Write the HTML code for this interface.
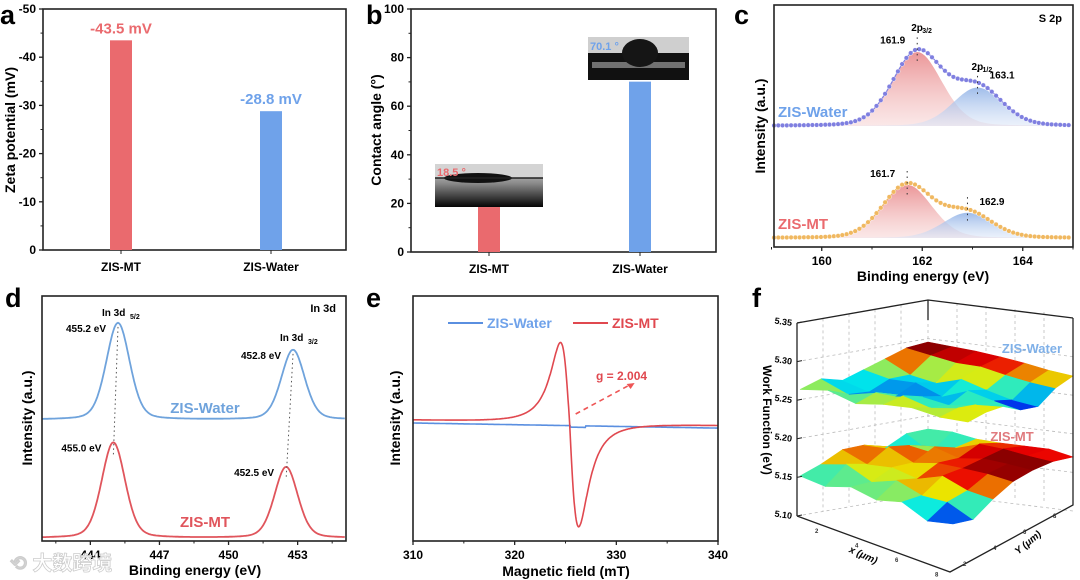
<!DOCTYPE html>
<html><head><meta charset="utf-8">
<style>
html,body{margin:0;padding:0;background:#fff;}
svg{display:block;font-family:"Liberation Sans","Noto Sans CJK SC",sans-serif;font-weight:bold;}
</style></head>
<body>
<svg id="fig" width="1080" height="580" viewBox="0 0 1080 580" xmlns="http://www.w3.org/2000/svg">
<defs>
<linearGradient id="gr" x1="0" y1="0" x2="0" y2="1"><stop offset="0" stop-color="#e98a8c" stop-opacity="0.9"/><stop offset="1" stop-color="#f6d0d0" stop-opacity="0.5"/></linearGradient>
<linearGradient id="gb" x1="0" y1="0" x2="0" y2="1"><stop offset="0" stop-color="#8fb1e6" stop-opacity="0.85"/><stop offset="1" stop-color="#d8e4f7" stop-opacity="0.5"/></linearGradient>
<linearGradient id="sub" x1="0" y1="0" x2="0" y2="1"><stop offset="0" stop-color="#d8d8d8"/><stop offset="0.45" stop-color="#8a8a8a"/><stop offset="1" stop-color="#050505"/></linearGradient>
</defs>
<g id="root"></g>
</svg>
<script>
// ---------- DATA ----------
const barCats = ["ZIS-MT","ZIS-Water"];
const zetaVals = [-43.5, -28.8];
const zetaLabels = ["-43.5 mV","-28.8 mV"];
const zetaTicks = [0,-10,-20,-30,-40,-50];
const angleVals = [18.5, 70.1];
const angleLabels = ["18.5 °","70.1 °"];
const angleTicks = [0,20,40,60,80,100];
// XPS S 2p components: [center, height]
const s2pWaterPeaks = [[161.9, 1.0],[163.1, 0.52]];
const s2pMTPeaks = [[161.7, 0.76],[162.9, 0.36]];
const s2pTicks = [160,162,164];
// XPS In 3d: [center, height]
const in3dWaterPeaks = [[445.2, 3.95],[452.8, 2.85]];
const in3dMTPeaks = [[445.0, 3.9],[452.5, 2.9]];
const in3dBase = [4.95, 0.12];
const in3dTicks = [444,447,450,453];
// EPR
const eprCenter = 325.4;
const eprHalfWidth = 1.55;
const eprUp = 10.0, eprDown = 13.0;
const eprTicks = [310,320,330,340];
// Work function surfaces (7x7 grid, eV)
const wfWater = [
 [5.275,5.285,5.270,5.280,5.290,5.300,5.300],
 [5.285,5.265,5.258,5.272,5.268,5.295,5.300],
 [5.270,5.280,5.260,5.275,5.262,5.290,5.300],
 [5.280,5.285,5.270,5.258,5.280,5.292,5.298],
 [5.285,5.272,5.264,5.280,5.268,5.285,5.295],
 [5.278,5.283,5.276,5.270,5.258,5.280,5.290],
 [5.280,5.285,5.283,5.262,5.255,5.278,5.288]];
const wfMT = [
 [5.160,5.170,5.185,5.180,5.160,5.175,5.170],
 [5.155,5.185,5.170,5.190,5.178,5.150,5.175],
 [5.170,5.165,5.178,5.172,5.188,5.170,5.172],
 [5.160,5.183,5.170,5.185,5.178,5.190,5.175],
 [5.172,5.168,5.190,5.188,5.190,5.192,5.180],
 [5.150,5.170,5.175,5.190,5.192,5.190,5.185],
 [5.160,5.150,5.172,5.188,5.192,5.190,5.180]];
const wfTicks = [5.10,5.15,5.20,5.25,5.30,5.35];

// ---------- helpers ----------
const NS="http://www.w3.org/2000/svg";
const root=document.getElementById('root');
function el(tag,attrs,parent,text){const e=document.createElementNS(NS,tag);for(const k in attrs)e.setAttribute(k,attrs[k]);if(text!==undefined)e.textContent=text;(parent||root).appendChild(e);return e;}
function lin(d0,d1,r0,r1){return v=>r0+(v-d0)*(r1-r0)/(d1-d0);}
const RED="#ea6a6e", BLUE="#6fa2ea";
function peakShape(x,c,h,w,gf){const d=(x-c)/w;return h*(gf*Math.exp(-d*d*2.77)+(1-gf)/(1+4*d*d));}
function panelLabel(t,x,y){const e=el('text',{x:x,y:y,'font-size':27,fill:'#000'},root,t);

}

// ---------- Panel a ----------
(function(){
const g=el('g',{});


const L=43,R=346,T=9,B=250;
const y=lin(0,-50,B,T);
const xc=[121,271];
el('rect',{x:L,y:T,width:R-L,height:B-T,fill:'none',stroke:'#222','stroke-width':1.6},g);
zetaTicks.forEach(t=>{el('line',{x1:L-4,x2:L,y1:y(t),y2:y(t),stroke:'#222','stroke-width':1.3},g);
const tx=el('text',{x:L-7,y:y(t)+4,'font-size':12,'text-anchor':'end'},g,String(t));


if(t>-50){const m=y(t+(-5));el('line',{x1:L-2.5,x2:L,y1:m,y2:m,stroke:'#222'},g);}});
barCats.forEach((c,i)=>{
const col=i?BLUE:RED;
const b=el('rect',{x:xc[i]-11,y:y(zetaVals[i]),width:22,height:B-y(zetaVals[i]),fill:col},g);


const lb=el('text',{x:xc[i],y:y(zetaVals[i])-7,'font-size':15,'text-anchor':'middle',fill:col},g,zetaLabels[i]);


el('line',{x1:xc[i],x2:xc[i],y1:B,y2:B+4,stroke:'#222'},g);
const cx=el('text',{x:xc[i],y:B+21,'font-size':12,'text-anchor':'middle'},g,c);

});
const yt=el('text',{transform:'translate(15,130) rotate(-90)','font-size':14,'text-anchor':'middle'},g,'Zeta potential (mV)');


})();
panelLabel('a',0,24);

// ---------- Panel b ----------
(function(){
const g=el('g',{});


const L=411,R=716,T=9,B=252;
const y=lin(0,100,B,T);
const xc=[489,640];
el('rect',{x:L,y:T,width:R-L,height:B-T,fill:'none',stroke:'#222','stroke-width':1.6},g);
angleTicks.forEach(t=>{el('line',{x1:L-4,x2:L,y1:y(t),y2:y(t),stroke:'#222','stroke-width':1.3},g);
const tx=el('text',{x:L-7,y:y(t)+4,'font-size':12,'text-anchor':'end'},g,String(t));


if(t<100){const m=y(t+10);el('line',{x1:L-2.5,x2:L,y1:m,y2:m,stroke:'#222'},g);}});
barCats.forEach((c,i)=>{
const col=i?BLUE:RED;
const b=el('rect',{x:xc[i]-11,y:y(angleVals[i]),width:22,height:B-y(angleVals[i]),fill:col},g);


el('line',{x1:xc[i],x2:xc[i],y1:B,y2:B+4,stroke:'#222'},g);
const cx=el('text',{x:xc[i],y:B+21,'font-size':12,'text-anchor':'middle'},g,c);

});
const i1=el('g',{},g);


el('rect',{x:435,y:164,width:108,height:43,fill:'url(#sub)'},i1);
el('rect',{x:435,y:164,width:108,height:14,fill:'#d4d4d4'},i1);
el('ellipse',{cx:478,cy:178,rx:34,ry:5,fill:'#111'},i1);
el('line',{x1:435,x2:543,y1:178,y2:178,stroke:'#222','stroke-width':1.5},i1);
el('text',{x:437,y:176,'font-size':11,fill:RED},i1,angleLabels[0]);
const i2=el('g',{},g);


el('rect',{x:588,y:37,width:101,height:43,fill:'#111'},i2);
el('rect',{x:588,y:37,width:101,height:16,fill:'#cfcfcf'},i2);
el('rect',{x:592,y:62,width:93,height:6,fill:'#9a9a9a',opacity:0.7},i2);
el('ellipse',{cx:640,cy:53,rx:18,ry:14,fill:'#151515'},i2);
el('text',{x:590,y:50,'font-size':11,fill:BLUE},i2,angleLabels[1]);
const yt=el('text',{transform:'translate(381,130) rotate(-90)','font-size':14,'text-anchor':'middle'},g,'Contact angle (°)');


})();
panelLabel('b',366,24);

// ---------- Panel c ----------
(function(){
const g=el('g',{});


const L=774,R=1073,T=5,B=247;
const x=lin(159.05,165,L,R);
const sets=[{pk:s2pWaterPeaks,base:126,scale:74,dot:'#7f7fe0',name:'ZIS-Water',lc:BLUE,ly:117},
{pk:s2pMTPeaks,base:238,scale:70,dot:'#f0b860',name:'ZIS-MT',lc:RED,ly:229}];
const w=1.15, gf=0.85;
sets.forEach(s=>{
const gs=el('g',{},g);


s.pk.forEach((p,k)=>{let d='';for(let e=159.05;e<=165;e+=0.05){const v=peakShape(e,p[0],p[1],w,gf);d+=(d?'L':'M')+x(e).toFixed(1)+','+(s.base-v*s.scale).toFixed(1);}
d+='L'+R+','+s.base+'L'+L+','+s.base+'Z';
const a=el('path',{d:d,fill:k?'url(#gb)':'url(#gr)',stroke:'none'},gs);

});
let ld='';for(let e=159.05;e<=165;e+=0.05){let v=0;s.pk.forEach(p=>v+=peakShape(e,p[0],p[1],w,gf));ld+=(ld?'L':'M')+x(e).toFixed(1)+','+(s.base-v*s.scale).toFixed(1);}
el('path',{d:ld,fill:'none',stroke:s.dot,'stroke-width':1.2},gs);
for(let e=159.05;e<=165;e+=0.085){let v=0;s.pk.forEach(p=>v+=peakShape(e,p[0],p[1],w,gf));
el('circle',{cx:x(e).toFixed(1),cy:(s.base-v*s.scale).toFixed(1),r:2.3,fill:s.dot,stroke:'#fff','stroke-width':0.4},gs);}
s.pk.forEach(p=>{let v=0;s.pk.forEach(q=>v+=peakShape(p[0],q[0],q[1],w,gf));const yy=s.base-v*s.scale;
el('line',{x1:x(p[0]),x2:x(p[0]),y1:yy-12,y2:yy+14,stroke:'#333','stroke-dasharray':'1.5,4'},gs);
el('text',{x:p===s.pk[0]?x(p[0])-12:x(p[0])+12,y:p===s.pk[0]?yy-6:yy-4,'font-size':10,'text-anchor':p===s.pk[0]?'end':'start'},gs,p[0].toFixed(1));});
const lt=el('text',{x:778,y:s.ly,'font-size':15,fill:s.lc},gs,s.name);


});
el('text',{x:x(161.9)-6,y:31,'font-size':10},g,'2p');
el('text',{x:x(161.9)+5,y:33,'font-size':7},g,'3/2');
el('text',{x:x(163.1)-6,y:70,'font-size':10},g,'2p');
el('text',{x:x(163.1)+5,y:72,'font-size':7},g,'1/2');
el('text',{x:1062,y:22,'font-size':11,'text-anchor':'end'},g,'S 2p');
el('rect',{x:L,y:T,width:R-L,height:B-T,fill:'none',stroke:'#222','stroke-width':1.6},g);
s2pTicks.forEach(t=>{el('line',{x1:x(t),x2:x(t),y1:B,y2:B+4,stroke:'#222','stroke-width':1.3},g);
const tx=el('text',{x:x(t),y:B+18,'font-size':12,'text-anchor':'middle'},g,String(t));


el('line',{x1:x(t+1),x2:x(t+1),y1:B,y2:B+2.5,stroke:'#222'},g);});
el('line',{x1:x(159),x2:x(159),y1:B,y2:B+2.5,stroke:'#222'},g);
const xt=el('text',{x:923,y:281,'font-size':14,'text-anchor':'middle'},g,'Binding energy (eV)');


const yt=el('text',{transform:'translate(765,126) rotate(-90)','font-size':14,'text-anchor':'middle'},g,'Intensity (a.u.)');


})();
panelLabel('c',734,24);

// ---------- Panel d ----------
(function(){
const g=el('g',{});


const L=42,R=346,T=296,B=541;
const x=lin(441.9,455.1,L,R);
const y=lin(0,10,B,T);
const W=1.2, GF=0.75;
const sets=[{pk:in3dWaterPeaks,base:in3dBase[0],col:'#6fa3dc',name:'ZIS-Water',ly:413,lx:205,lab:['455.2 eV','452.8 eV']},
{pk:in3dMTPeaks,base:in3dBase[1],col:'#e0555c',name:'ZIS-MT',ly:527,lx:205,lab:['455.0 eV','452.5 eV']}];
sets.forEach(s=>{
const gs=el('g',{},g);


let d='';for(let e=441.9;e<=455.1;e+=0.05){let v=s.base;s.pk.forEach(p=>v+=peakShape(e,p[0],p[1],W,GF));d+=(d?'L':'M')+x(e).toFixed(1)+','+y(v).toFixed(1);}
el('path',{d:d,fill:'none',stroke:s.col,'stroke-width':1.8},gs);
s.pk.forEach((p,k)=>{let v=s.base;s.pk.forEach(q=>v+=peakShape(p[0],q[0],q[1],W,GF));const yy=y(v);
el('text',{x:x(p[0])-12,y:yy+9,'font-size':10,'text-anchor':'end'},gs,s.lab[k]);});
const lt=el('text',{x:s.lx,y:s.ly,'font-size':15,fill:s.col,'text-anchor':'middle'},gs,s.name);

});
for(let k=0;k<2;k++){el('line',{x1:x(in3dWaterPeaks[k][0]),y1:y(in3dBase[0]+in3dWaterPeaks[k][1])+4,x2:x(in3dMTPeaks[k][0]),y2:y(in3dBase[1]+in3dMTPeaks[k][1])+12,stroke:'#555','stroke-dasharray':'1.5,3'},g);}
el('text',{x:102,y:316,'font-size':10},g,'In 3d');
el('text',{x:130,y:319,'font-size':7},g,'5/2');
el('text',{x:280,y:341,'font-size':10},g,'In 3d');
el('text',{x:308,y:344,'font-size':7},g,'3/2');
el('text',{x:336,y:312,'font-size':11,'text-anchor':'end'},g,'In 3d');
el('rect',{x:L,y:T,width:R-L,height:B-T,fill:'none',stroke:'#222','stroke-width':1.6},g);
in3dTicks.forEach(t=>{el('line',{x1:x(t),x2:x(t),y1:B,y2:B+4,stroke:'#222','stroke-width':1.3},g);
const tx=el('text',{x:x(t),y:B+18,'font-size':12,'text-anchor':'middle'},g,String(t));

});
for(let t=442.5;t<455;t+=1.5){if(in3dTicks.indexOf(t)<0)el('line',{x1:x(t),x2:x(t),y1:B,y2:B+2.5,stroke:'#222'},g);}
const xt=el('text',{x:195,y:575,'font-size':14,'text-anchor':'middle'},g,'Binding energy (eV)');


const yt=el('text',{transform:'translate(32,418) rotate(-90)','font-size':14,'text-anchor':'middle'},g,'Intensity (a.u.)');


})();
panelLabel('d',5,307);

// ---------- Panel e ----------
(function(){
const g=el('g',{});


const L=413,R=718,T=296,B=541;
const x=lin(310,340,L,R);
const yb=f=>420+(f-310)*0.17;
function epr(f){const d=(f-eprCenter)/eprHalfWidth;return -d/Math.pow(1+d*d,2);}
let maxv=0;for(let f=310;f<=340;f+=0.01){maxv=Math.max(maxv,Math.abs(epr(f)));}
let db='',dr='';
for(let f=310;f<=340;f+=0.05){
const b=yb(f)+3+(f>325.5&&f<327?1.5:0);
db+=(db?'L':'M')+x(f).toFixed(1)+','+b.toFixed(1);
const v=epr(f)/maxv;const amp=v>0?eprUp:eprDown;
dr+=(dr?'L':'M')+x(f).toFixed(1)+','+(yb(f)-v*amp*8).toFixed(1);}
const sb=el('path',{d:db,fill:'none',stroke:'#5a8fe0','stroke-width':1.6},g);


const sr=el('path',{d:dr,fill:'none',stroke:'#e0484f','stroke-width':1.6},g);


el('line',{x1:x(326),y1:414,x2:x(331.3),y2:385,stroke:'#e55','stroke-width':1.6,'stroke-dasharray':'5,4'},g);
el('path',{d:`M${x(331.8)},383 l-8,1 l4,5 z`,fill:'#e55'},g);
el('text',{x:x(328),y:380,'font-size':12,fill:'#e0484f'},g,'g = 2.004');
const lg=el('g',{},g);


el('line',{x1:448,x2:483,y1:323,y2:323,stroke:'#5a8fe0','stroke-width':2},lg);
el('text',{x:487,y:328,'font-size':14,fill:'#6fa2ea'},lg,'ZIS-Water');
el('line',{x1:573,x2:608,y1:323,y2:323,stroke:'#e0484f','stroke-width':2},lg);
el('text',{x:612,y:328,'font-size':14,fill:'#e0484f'},lg,'ZIS-MT');
el('rect',{x:L,y:T,width:R-L,height:B-T,fill:'none',stroke:'#222','stroke-width':1.6},g);
eprTicks.forEach(t=>{el('line',{x1:x(t),x2:x(t),y1:B,y2:B+4,stroke:'#222','stroke-width':1.3},g);
const tx=el('text',{x:x(t),y:B+18,'font-size':12,'text-anchor':'middle'},g,String(t));


if(t<340)el('line',{x1:x(t+5),x2:x(t+5),y1:B,y2:B+2.5,stroke:'#222'},g);});
const xt=el('text',{x:566,y:576,'font-size':14,'text-anchor':'middle'},g,'Magnetic field (mT)');


const yt=el('text',{transform:'translate(400,418) rotate(-90)','font-size':14,'text-anchor':'middle'},g,'Intensity (a.u.)');


})();
panelLabel('e',366,307);

// ---------- Panel f ----------
(function(){
const g=el('g',{});


const st={stroke:'#222','stroke-width':1.3,fill:'none'};
const zy=lin(5.10,5.35,516,323);
const dash={stroke:'#bbb','stroke-width':0.8,'stroke-dasharray':'3,3',fill:'none'};
wfTicks.forEach(t=>{const yy=zy(t);el('path',{d:`M797,${yy} L928,${yy-23} L1073,${yy-5}`,...dash},g);});
el('line',{x1:928,y1:300,x2:928,y2:494,...dash},g);
for(let k=1;k<5;k++){const xx=797+k*26;el('line',{x1:xx,y1:323-k*4.6,x2:xx,y2:516-k*5,...dash},g);
const x2=928+k*29;el('line',{x1:x2,y1:300+k*3,x2:x2,y2:494+k*2,...dash},g);}
el('path',{d:'M797,323 L928,300 L1073,318',...st},g);
el('line',{x1:928,y1:300,x2:928,y2:320,...st},g);
function jet(t){t=Math.max(0,Math.min(1,t));const r=Math.min(1,Math.max(0,1.5-Math.abs(4*t-3))),gg=Math.min(1,Math.max(0,1.5-Math.abs(4*t-2))),b=Math.min(1,Math.max(0,1.5-Math.abs(4*t-1)));return `rgb(${Math.round(r*235)},${Math.round(gg*235)},${Math.round(b*235)})`;}
function surface(Z,corners,zref,name){
const gs=el('g',{},g);


const n=Z.length;let mn=1e9,mx=-1e9;Z.forEach(r=>r.forEach(v=>{mn=Math.min(mn,v);mx=Math.max(mx,v);}));
const [Lc,Bc,Rc,Fc]=corners;
function P(i,j){const u=j/(n-1),v=i/(n-1);
const px=(1-u)*(1-v)*Lc[0]+u*(1-v)*Bc[0]+u*v*Rc[0]+(1-u)*v*Fc[0];
const py=(1-u)*(1-v)*Lc[1]+u*(1-v)*Bc[1]+u*v*Rc[1]+(1-u)*v*Fc[1];
return [px,py-(Z[i][j]-zref)*500];}
for(let i=0;i<n-1;i++)for(let j=0;j<n-1;j++){
const a=P(i,j),b=P(i,j+1),c=P(i+1,j+1),d=P(i+1,j);
const avg=(Z[i][j]+Z[i][j+1]+Z[i+1][j+1]+Z[i+1][j])/4;
const tt=0.05+0.95*(avg-mn)/(mx-mn);
const col=jet(tt);
el('polygon',{points:[a,b,c,d].map(p=>p[0].toFixed(1)+','+p[1].toFixed(1)).join(' '),fill:col,stroke:col,'stroke-width':0.6},gs);}
}
surface(wfWater,[[800,387],[928,352],[1073,380],[968,422]],5.28,'surface-zis-water');
surface(wfMT,[[800,470],[928,428],[1073,461],[953,518]],5.172,'surface-zis-mt');
el('line',{x1:797,y1:323,x2:797,y2:516,...st},g);
el('path',{d:'M797,516 L950,572 L1073,505 L1073,318',...st},g);
wfTicks.forEach(t=>{const yy=zy(t);el('line',{x1:797,x2:802,y1:yy,y2:yy-1,stroke:'#222'},g);
const tx=el('text',{x:792,y:yy+3,'font-size':9,'text-anchor':'end',transform:`rotate(8 792 ${yy})`},g,t.toFixed(2));

});
['2','4','6','8'].forEach((s,k)=>{const xx=815+k*40,yy=523+k*14.5;el('text',{x:xx,y:yy+10,'font-size':6,fill:'#333'},g,s);
const x2=957+k*30,y2=566-k*16;el('text',{x:x2+6,y:y2,'font-size':6,fill:'#333'},g,s);});
const zt=el('text',{transform:'translate(763,420) rotate(90)','font-size':12,'text-anchor':'middle'},g,'Work Function (eV)');


const xt=el('text',{transform:'translate(862,558) rotate(24)','font-size':10,'text-anchor':'middle','font-style':'italic'},g,'x (μm)');


const yt=el('text',{transform:'translate(1030,545) rotate(-40)','font-size':10,'text-anchor':'middle','font-style':'italic'},g,'Y (μm)');


const l1=el('text',{x:1032,y:353,'font-size':13,fill:'#7fb0e8','text-anchor':'middle'},g,'ZIS-Water');


const l2=el('text',{x:1012,y:441,'font-size':13,fill:'#e07a7e','text-anchor':'middle'},g,'ZIS-MT');


})();
panelLabel('f',752,307);

const wm=el('text',{x:10,y:570,'font-size':20,fill:'#ffffff',stroke:'#c8c8c8','stroke-width':0.8,opacity:0.9},root,'⟲ 大数跨境');


</script>
</body></html>
